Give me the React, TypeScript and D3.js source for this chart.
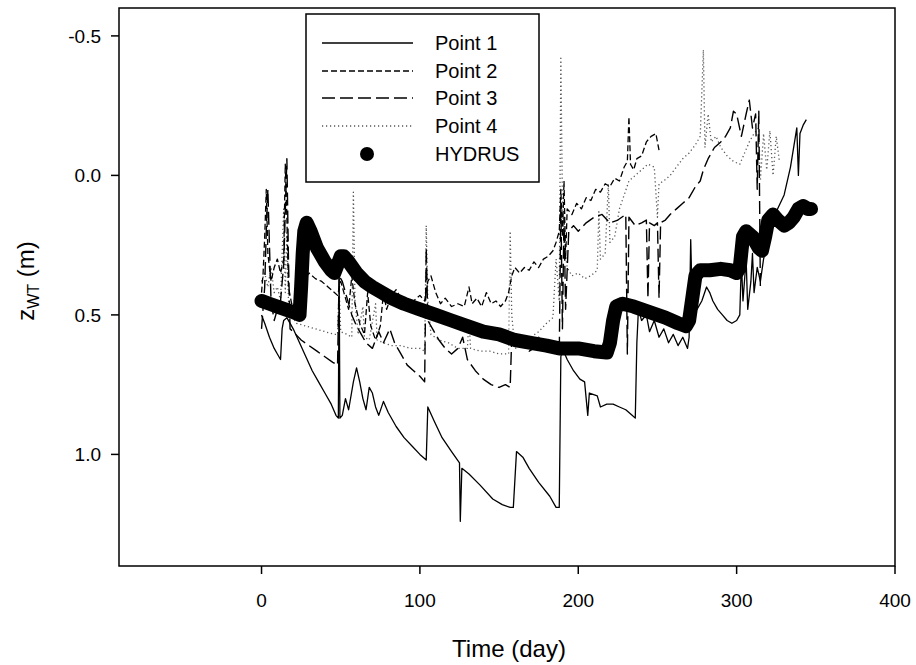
import React from "react";
import * as d3 from "d3";

// ---- data (day, z_WT in m) ----
const point1Data: [number, number][] = [
  [0,0.50],[2,0.53],[5,0.58],[8,0.62],[10,0.64],[12,0.66],[13,0.55],[14,0.52],[16,0.51],[20,0.55],[24,0.60],[28,0.65],[32,0.70],[36,0.74],[40,0.78],[44,0.82],[47,0.86],[48.5,0.87],[49,0.34],[49.5,0.87],[51,0.86],[53,0.80],[55,0.84],[58,0.74],[60,0.69],[62,0.74],[64,0.80],[66,0.84],[68,0.76],[70,0.78],[72,0.83],[74,0.86],[77,0.81],[80,0.85],[85,0.90],[90,0.94],[95,0.97],[100,1.00],[104,1.02],[105,0.83],[109,0.88],[114,0.94],[120,0.99],[125,1.03],[125.5,1.24],[126.5,1.05],[131,1.07],[138,1.11],[146,1.16],[152,1.18],[157,1.19],[159,1.19],[161,0.99],[165,1.01],[169,1.05],[175,1.10],[182,1.15],[186,1.19],[188,1.19],[189,0.65],[190,0.62],[193,0.66],[197,0.70],[201,0.73],[204,0.74],[206,0.86],[207,0.78],[212,0.79],[214,0.83],[218,0.82],[222,0.82],[226,0.83],[230,0.84],[234,0.86],[236,0.87],[237,0.60],[238,0.48],[240,0.52],[243,0.50],[245,0.56],[248,0.52],[251,0.58],[254,0.55],[257,0.60],[260,0.57],[263,0.61],[266,0.58],[269,0.62],[270,0.58],[271,0.23],[272,0.46],[275,0.48],[278,0.45],[281,0.40],[283,0.42],[285,0.45],[288,0.48],[291,0.50],[294,0.52],[297,0.53],[300,0.52],[302,0.50],[303,0.31],[304,0.45],[306,0.30],[307,0.48],[309,0.38],[310,0.28],[311,0.42],[313,0.33],[315,0.38],[317,0.30],[320,0.22],[325,0.13],[330,0.07],[334,-0.03],[338,-0.17],[339,0.00],[340,-0.15],[342,-0.18],[344,-0.20]
];

const point2Data: [number, number][] = [
  [0,0.42],[1,0.35],[2,0.22],[3,0.05],[4,0.28],[6,0.38],[8,0.33],[10,0.30],[12,0.35],[14,0.30],[15,-0.04],[16,0.15],[17,0.40],[19,0.46],[22,0.44],[26,0.38],[30,0.35],[34,0.37],[38,0.38],[42,0.40],[46,0.42],[48,0.43],[50,0.38],[52,0.42],[55,0.48],[57,0.36],[59,0.46],[62,0.53],[65,0.57],[67,0.42],[69,0.54],[72,0.59],[75,0.54],[77,0.42],[79,0.48],[82,0.43],[85,0.41],[88,0.44],[92,0.46],[96,0.45],[100,0.43],[103,0.45],[105,0.38],[107,0.36],[110,0.42],[113,0.46],[116,0.44],[120,0.47],[124,0.46],[128,0.47],[131,0.40],[133,0.46],[136,0.44],[139,0.47],[142,0.42],[145,0.46],[148,0.45],[151,0.47],[154,0.45],[156,0.42],[158,0.36],[160,0.33],[163,0.35],[166,0.33],[169,0.34],[172,0.31],[175,0.33],[178,0.30],[181,0.29],[184,0.27],[186,0.24],[188,0.20],[189,0.05],[190,0.22],[191,0.02],[192,0.30],[193,0.12],[196,0.14],[199,0.10],[202,0.12],[205,0.08],[208,0.09],[211,0.05],[214,0.06],[217,0.03],[220,0.04],[223,0.01],[226,0.02],[229,-0.03],[231,-0.05],[232,-0.21],[233,-0.04],[235,-0.02],[237,-0.06],[240,-0.07],[243,-0.12],[246,-0.14],[249,-0.15],[251,-0.09]
];

const point3Data: [number, number][] = [
  [0,0.55],[2,0.40],[3,0.20],[4,0.05],[5,0.25],[6,0.45],[8,0.52],[10,0.48],[12,0.45],[14,0.32],[16,-0.06],[17,0.30],[18,0.55],[20,0.56],[25,0.59],[30,0.61],[35,0.63],[40,0.65],[45,0.67],[48,0.68],[49,0.36],[51,0.38],[54,0.44],[57,0.50],[60,0.54],[63,0.57],[66,0.60],[70,0.62],[74,0.56],[77,0.60],[81,0.55],[84,0.60],[88,0.64],[92,0.68],[96,0.70],[100,0.72],[103,0.74],[104,0.26],[105,0.52],[108,0.55],[112,0.59],[116,0.62],[120,0.64],[124,0.62],[127,0.58],[130,0.66],[135,0.70],[140,0.73],[145,0.75],[150,0.76],[154,0.75],[157,0.76],[158,0.58],[161,0.57],[165,0.60],[169,0.63],[172,0.62],[175,0.58],[178,0.62],[182,0.61],[186,0.63],[188,0.64],[189,0.10],[190,0.55],[191,0.15],[192,0.48],[194,0.20],[197,0.18],[200,0.20],[205,0.17],[210,0.15],[215,0.14],[220,0.17],[225,0.16],[230,0.14],[231,0.64],[232,0.15],[236,0.18],[240,0.17],[243,0.16],[244,0.44],[245,0.17],[248,0.18],[250,0.17],[251,0.44],[252,0.17],[255,0.16],[258,0.14],[262,0.12],[266,0.10],[270,0.08],[274,0.04],[277,0.02],[279,-0.02],[282,-0.06],[286,-0.10],[290,-0.12],[293,-0.14],[296,-0.17],[298,-0.23],[300,-0.22],[303,-0.14],[306,-0.22],[308,-0.27],[310,-0.17],[312,-0.22],[313,0.05],[314,-0.23],[315,0.41]
];

const point4Data: [number, number][] = [
  [0,0.38],[2,0.35],[4,0.40],[6,0.33],[8,0.42],[10,0.40],[12,0.45],[14,0.12],[15,0.42],[16,0.20],[17,0.45],[19,0.50],[22,0.53],[28,0.54],[34,0.55],[40,0.56],[46,0.57],[48,0.57],[49,0.40],[50,0.56],[54,0.57],[57,0.58],[58,0.06],[59,0.45],[61,0.57],[64,0.47],[65,0.58],[68,0.59],[72,0.46],[73,0.59],[77,0.60],[82,0.61],[88,0.61],[94,0.62],[100,0.62],[103,0.63],[104,0.18],[105,0.45],[107,0.57],[112,0.59],[118,0.60],[124,0.62],[130,0.62],[131,0.52],[132,0.62],[138,0.63],[144,0.63],[150,0.64],[156,0.64],[157,0.20],[158,0.50],[160,0.62],[165,0.61],[170,0.58],[175,0.56],[180,0.53],[184,0.51],[186,0.30],[188,0.45],[189,-0.42],[190,0.10],[191,0.25],[193,0.33],[196,0.36],[200,0.35],[204,0.37],[208,0.36],[212,0.34],[213,0.13],[214,0.30],[217,0.28],[219,0.03],[220,0.24],[223,0.22],[226,0.12],[229,0.07],[232,0.02],[236,0.00],[240,-0.02],[244,-0.04],[248,-0.03],[250,0.15],[251,0.03],[254,0.02],[258,0.00],[262,-0.03],[266,-0.06],[270,-0.08],[274,-0.11],[277,-0.14],[279,-0.45],[280,-0.10],[282,-0.22],[284,-0.12],[287,-0.14],[290,-0.10],[294,-0.07],[298,-0.05],[302,-0.04],[305,-0.08],[308,-0.12],[311,-0.15],[314,-0.17],[315,0.02],[317,-0.15],[319,-0.02],[321,-0.16],[323,0.00],[325,-0.14],[327,-0.05]
];

const hydrusData: [number, number][] = [
  [0,0.45],[5,0.46],[10,0.47],[15,0.48],[20,0.49],[24,0.50],[25,0.40],[26,0.28],[27,0.20],[28.5,0.17],[31,0.20],[35,0.26],[40,0.31],[44,0.34],[46,0.35],[48,0.32],[50,0.29],[52,0.29],[55,0.31],[60,0.35],[65,0.38],[70,0.40],[76,0.42],[82,0.44],[90,0.46],[100,0.48],[110,0.50],[120,0.52],[130,0.54],[140,0.56],[150,0.57],[160,0.59],[170,0.60],[180,0.61],[188,0.62],[195,0.62],[200,0.62],[210,0.63],[218,0.635],[220,0.60],[222,0.52],[224,0.47],[228,0.46],[235,0.47],[245,0.49],[255,0.51],[263,0.53],[268,0.54],[270,0.52],[272,0.44],[274,0.36],[277,0.34],[283,0.34],[290,0.335],[296,0.34],[300,0.35],[302,0.33],[304,0.22],[306,0.20],[310,0.22],[314,0.26],[316,0.27],[318,0.22],[320,0.16],[323,0.14],[326,0.16],[330,0.18],[333,0.17],[336,0.15],[339,0.12],[342,0.11],[345,0.12],[347,0.12]
];

const xTicks = [0, 100, 200, 300, 400];
const yTicks = [-0.5, 0, 0.5, 1.0];
const seriesNames = ["Point 1", "Point 2", "Point 3", "Point 4", "HYDRUS"];

const FONT = "'Liberation Sans', Arial, sans-serif";

export default function App() {
  const W = 916, H = 665;
  const L = 119, R = 895, T = 8, B = 566;
  const x = d3.scaleLinear().domain([-90, 400]).range([L, R]);
  const y = d3.scaleLinear().domain([-0.6, 1.4]).range([T, B]);
  const line = d3.line<[number, number]>().x(d => x(d[0])).y(d => y(d[1]));

  const styles = [
    { data: point1Data, dash: undefined, color: "#000", w: 1.3 },
    { data: point2Data, dash: "6,3", color: "#000", w: 1.3 },
    { data: point3Data, dash: "13,5", color: "#000", w: 1.4 },
    { data: point4Data, dash: "1.2,2.8", color: "#555", w: 1.3 },
  ];

  const legX = 306, legY = 14, legW = 233, legH = 168;
  const rowY = [43, 71, 98, 126, 154];

  return (
    <svg width={W} height={H} style={{ position: "absolute", left: 0, top: 0, background: "#fff" }} fontFamily={FONT}>
      <rect x={0} y={0} width={W} height={H} fill="#fff" />
      {/* series */}
      {[3, 2, 1, 0].map(i => (
        <path key={i} d={line(styles[i].data) || ""} fill="none" stroke={styles[i].color}
          strokeWidth={styles[i].w} strokeDasharray={styles[i].dash} strokeLinejoin="round" />
      ))}
      <path d={line(hydrusData) || ""} fill="none" stroke="#000" strokeWidth={14}
        strokeLinejoin="round" strokeLinecap="round" />

      {/* frame */}
      <rect x={L} y={T} width={R - L} height={B - T} fill="none" stroke="#000" strokeWidth={1.5} />

      {/* x ticks */}
      {xTicks.map(t => (
        <g key={"x" + t}>
          <line x1={x(t)} x2={x(t)} y1={B} y2={B + 8} stroke="#000" strokeWidth={1.5} />
          <text x={x(t)} y={607} textAnchor="middle" fontSize={19}>{t}</text>
        </g>
      ))}
      {/* y ticks */}
      {yTicks.map(t => (
        <g key={"y" + t}>
          <line x1={L - 8} x2={L} y1={y(t)} y2={y(t)} stroke="#000" strokeWidth={1.5} />
          <text x={101} y={y(t) + 7} textAnchor="end" fontSize={19}>{t.toFixed(1)}</text>
        </g>
      ))}

      {/* axis titles */}
      <text x={(L + R) / 2 + 2} y={657} textAnchor="middle" fontSize={24}>Time (day)</text>
      <text transform={`translate(34, ${(T + B) / 2 - 6}) rotate(-90)`} textAnchor="middle" fontSize={24}>
        z<tspan fontSize={16} dy={5}>WT</tspan><tspan dy={-5}> (m)</tspan>
      </text>

      {/* legend */}
      <rect x={legX} y={legY} width={legW} height={legH} fill="#fff" stroke="#000" strokeWidth={1.5} />
      {styles.map((s, i) => (
        <line key={"l" + i} x1={322} x2={413} y1={rowY[i]} y2={rowY[i]} stroke={s.color}
          strokeWidth={s.w} strokeDasharray={s.dash} />
      ))}
      <circle cx={367} cy={rowY[4]} r={7} fill="#000" />
      {seriesNames.map((n, i) => (
        <text key={n} x={435} y={rowY[i] + 7} fontSize={20}>{n}</text>
      ))}
    </svg>
  );
}
